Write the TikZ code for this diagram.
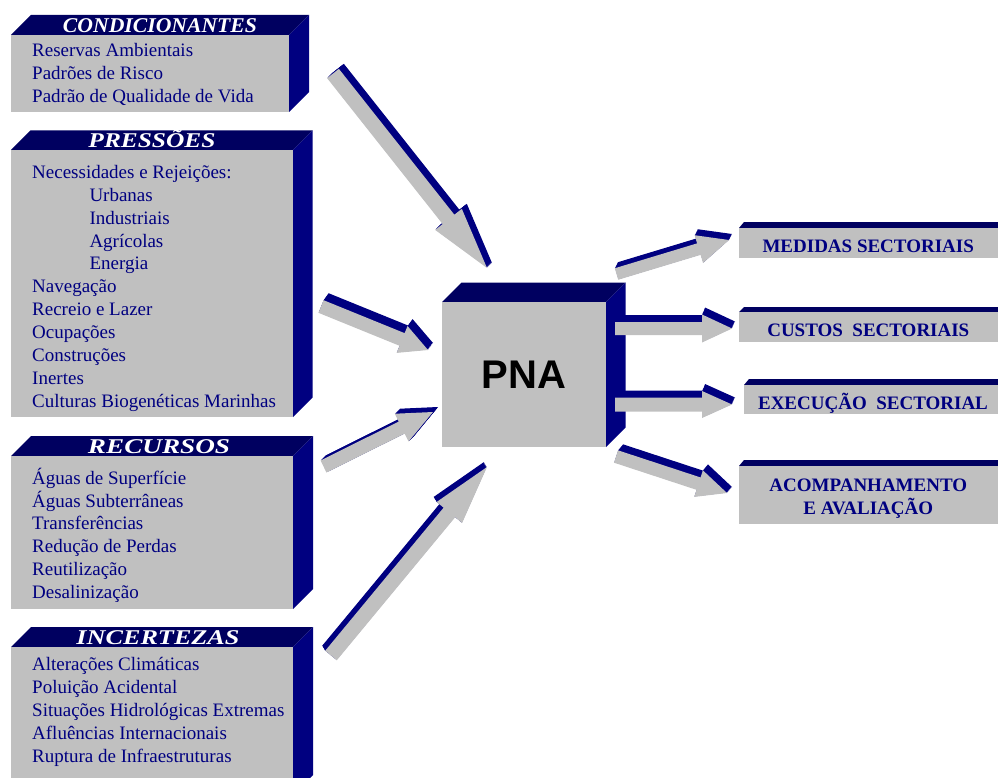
\documentclass[tikz,border=0pt]{standalone}
\usepackage{fontspec}
\setmainfont{Liberation Serif}
\newfontfamily\pnafont{Liberation Sans}
\usepackage{graphicx}
\definecolor{navy}{RGB}{0,0,128}
\definecolor{navytop}{RGB}{0,0,96}
\definecolor{boxgrey}{RGB}{192,192,192}
\definecolor{txtnavy}{RGB}{0,0,128}
\tikzset{
  item/.style={anchor=base west, inner sep=0pt, text=txtnavy, font=\fontsize{19}{23}\selectfont},
  hdr/.style={anchor=base, inner sep=0pt, text=white, font=\fontsize{21}{24}\selectfont\bfseries\itshape},
  outtxt/.style={anchor=base, inner sep=0pt, text=txtnavy, font=\fontsize{19}{21}\selectfont\bfseries},
  pnatxt/.style={anchor=base, inner sep=0pt, text=black, font=\pnafont\fontsize{40}{44}\selectfont\bfseries},
  face/.style={fill=boxgrey},
  topface/.style={fill=navytop},
  sideface/.style={fill=navy},
  arrface/.style={fill=boxgrey},
  arrdepth/.style={fill=navy},
}
% 3D box: front top-left (#1,#2), front bottom-right (#3,#4), depth #5
\newcommand\tdbox[5]{%
  \fill[topface] (#1,#2) -- (#1+#5,#2-#5) -- (#3+#5,#2-#5) -- (#3,#2) -- cycle;
  \fill[sideface] (#3,#2) -- (#3+#5,#2-#5) -- (#3+#5,#4-#5) -- (#3,#4) -- cycle;
  \fill[face] (#1,#2) rectangle (#3,#4);
}
% flat bar with thin top bevel
\newcommand\flatbox[4]{% left x, bevel top y, face top y, bottom y
  \fill[topface] (#1,#3) -- (#1+5,#2) -- (1010,#2) -- (1010,#3) -- cycle;
  \fill[face] (#1,#3) rectangle (1010,#4);
}
% 3D arrow: tail (#1,#2), tip (#3,#4), shaft half width #5, head half width #6, head length #7, depth offset (#8,#9)
\newcommand\tdarrow[9]{%
  \pgfmathsetmacro\tdL{veclen((#3)-(#1),(#4)-(#2))}%
  \pgfmathsetmacro\tdA{atan2(-((#4)-(#2)),(#3)-(#1))}%
  \pgfmathsetmacro\tdB{\tdL-(#7)}%
  \foreach \k in {10,9,...,1}{%
    \begin{scope}[shift={({(#1)+0.1*\k*(#8)},{(#2)+0.1*\k*(#9)})},rotate=\tdA]
      \fill[arrdepth] (0,-#5) -- (\tdB,-#5) -- (\tdB,-#6) -- (\tdL,0) -- (\tdB,#6) -- (\tdB,#5) -- (0,#5) -- cycle;
    \end{scope}
  }%
  \begin{scope}[shift={(#1,#2)},rotate=\tdA]
    \fill[arrface] (0,-#5) -- (\tdB,-#5) -- (\tdB,-#6) -- (\tdL,0) -- (\tdB,#6) -- (\tdB,#5) -- (0,#5) -- cycle;
  \end{scope}
}
\begin{document}
\begin{tikzpicture}[x=1pt,y=-1pt]
\useasboundingbox (0,0) rectangle (998,778);
\clip (0,0) rectangle (998,778);

% ---- left boxes ----
\tdbox{11}{35}{289}{112}{20}
\tdbox{11}{150}{293}{417}{19.5}
\tdbox{11}{456}{293}{609}{20}
\tdbox{11}{647}{293}{795}{20}

\node[hdr] (h1) at (160,33) {\resizebox{194pt}{\height}{CONDICIONANTES}};
\node[hdr] (h2) at (152,148) {\resizebox{127pt}{\height}{PRESSÕES}};
\node[hdr] (h3) at (159,453) {\resizebox{142pt}{\height}{RECURSOS}};
\node[hdr] (h4) at (158,644) {\resizebox{163pt}{\height}{INCERTEZAS}};

\node[item] (c1) at (32,56.5) {Reservas Ambientais};
\node[item] (c2) at (32,79.3) {Padrões de Risco};
\node[item] (c3) at (32,102.1) {Padrão de Qualidade de Vida};

\node[item] (p1) at (32,178.3) {Necessidades e Rejeições:};
\node[item] (p2) at (89.3,201.2) {Urbanas};
\node[item] (p3) at (89.3,224.1) {Industriais};
\node[item] (p4) at (89.3,247.0) {Agrícolas};
\node[item] (p5) at (89.3,269.9) {Energia};
\node[item] (p6) at (32,292.8) {Navegação};
\node[item] (p7) at (32,315.7) {Recreio e Lazer};
\node[item] (p8) at (32,338.6) {Ocupações};
\node[item] (p9) at (32,361.5) {Construções};
\node[item] (p10) at (32,384.4) {Inertes};
\node[item] (p11) at (32,407.5) {Culturas Biogenéticas Marinhas};

\node[item] (r1) at (32,484.3) {Águas de Superfície};
\node[item] (r2) at (32,507.1) {Águas Subterrâneas};
\node[item] (r3) at (32,529.9) {Transferências};
\node[item] (r4) at (32,552.7) {Redução de Perdas};
\node[item] (r5) at (32,575.5) {Reutilização};
\node[item] (r6) at (32,598.3) {Desalinização};

\node[item] (i1) at (32,670.7) {Alterações Climáticas};
\node[item] (i2) at (32,693.6) {Poluição Acidental};
\node[item] (i3) at (32,716.5) {Situações Hidrológicas Extremas};
\node[item] (i4) at (32,739.4) {Afluências Internacionais};
\node[item] (i5) at (32,762.3) {Ruptura de Infraestruturas};

% ---- central box ----
\tdbox{442}{302}{606}{447}{19.5}
\node[pnatxt] (pna) at (524,388.3) {PNA};

% ---- right bars ----
\flatbox{739}{222}{228}{258}
\flatbox{739}{307}{312}{342}
\flatbox{744}{379}{385}{414}
\flatbox{739}{460}{466}{524}

\node[outtxt] (o1) at (868.2,252.3) {MEDIDAS SECTORIAIS};
\node[outtxt] (o2) at (868.3,336) {CUSTOS\ \ SECTORIAIS};
\node[outtxt] (o3) at (873,409.3) {EXECUÇÃO\ \ SECTORIAL};
\node[outtxt] (o4) at (868.3,491.7) {ACOMPANHAMENTO};
\node[outtxt] (o5) at (868.3,514) {E AVALIAÇÃO};

% ---- arrows ----
\tdarrow{333}{73.5}{487}{268}{7.5}{17}{62}{5}{-5}
\tdarrow{321}{306.5}{428}{350}{6.8}{14.5}{28}{5}{-7}
\tdarrow{323.5}{466.5}{433}{412}{6.7}{15.5}{35}{5}{-5}
\tdarrow{331}{655.5}{487}{467}{7.5}{16.5}{59}{-3}{-5}

\tdarrow{616.5}{274}{729}{240}{6}{14.5}{31.5}{3}{-6}
\tdarrow{615}{328.5}{732}{328.5}{6.5}{14}{30}{3}{-7}
\tdarrow{615}{404.5}{732}{404.5}{7}{13.5}{30}{3}{-7}
\tdarrow{616}{456.5}{727}{493}{6.5}{14}{30}{5}{-6}
\end{tikzpicture}
\end{document}
